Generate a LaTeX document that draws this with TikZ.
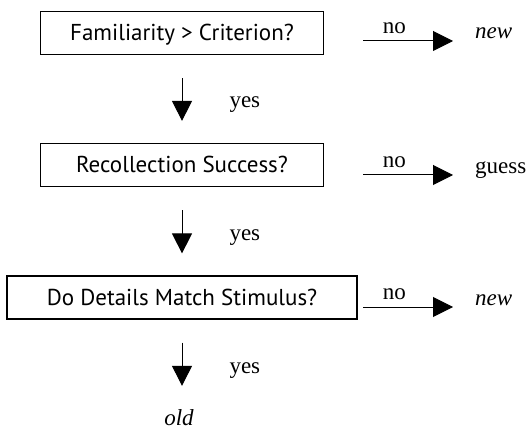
\documentclass[tikz,border=0pt]{standalone}
\usepackage{fontspec}
\setmainfont{Liberation Serif}
\newfontfamily\boxfont{PT Sans}
\usetikzlibrary{arrows.meta}

\tikzset{
  question/.style={draw, line width=1.2pt, minimum height=43pt,
    text height=16pt, text depth=0pt,
    font=\boxfont\fontsize{23}{26}\selectfont},
  outcome/.style={inner sep=0pt, font=\fontsize{23}{26}\selectfont},
  flow/.style={line width=1pt, -{Triangle[length=20pt,width=20pt]}},
}

\begin{document}
\begin{tikzpicture}[x=1pt,y=-1pt]
\useasboundingbox (0,0) rectangle (527,430);
% questions
\node[question, minimum width=283pt] (fam) at (182,33) {Familiarity > Criterion?};
\node[question, minimum width=283pt] (rec) at (182,165) {Recollection Success?};
\node[question, minimum width=350pt] (det) at (182,297.5) {Do Details Match Stimulus?};
% answers
\node[outcome, anchor=base west] (new1) at (475,39) {\textit{new}};
\node[outcome, anchor=base west] (guess) at (475,174) {guess};
\node[outcome, anchor=base west] (new2) at (475,305) {\textit{new}};
\node[outcome, anchor=base] (old) at (179,425) {\textit{old}};
% starts of the no arrows
\coordinate (s1) at (363,41);
\coordinate (s2) at (363,175);
\coordinate (s3) at (363,307);

\draw[flow, shorten >=22pt] (s1) -- node[outcome, above=7pt, pos=0.28] {no} (s1 -| new1.west);
\draw[flow, shorten >=22pt] (s2) -- node[outcome, above=7pt, pos=0.28] {no} (s2 -| guess.west);
\draw[flow, shorten >=22pt] (s3) -- node[outcome, above=7pt, pos=0.28] {no} (s3 -| new2.west);

\draw[flow, shorten <=23pt, shorten >=22pt] (fam) -- node[outcome, anchor=base west, shift={(47,9)}] {yes} (rec);
\draw[flow, shorten <=23pt, shorten >=22pt] (rec) -- node[outcome, anchor=base west, shift={(47,9)}] {yes} (det);
\draw[flow, shorten <=23pt, shorten >=23pt] (det) -- node[outcome, anchor=base west, shift={(47,9)}] {yes} (det.south |- old.north);
\end{tikzpicture}
\end{document}
